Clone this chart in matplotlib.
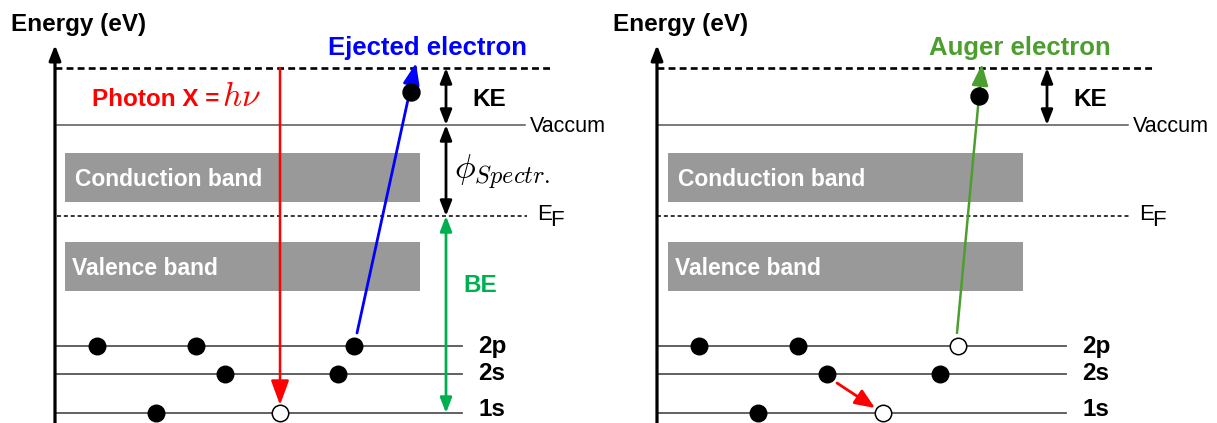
import matplotlib.pyplot as plt
from matplotlib.patches import Rectangle

plt.rcParams['font.family'] = ['Liberation Sans', 'DejaVu Sans']
plt.rcParams['mathtext.fontset'] = 'cm'

# Diagram geometry (pixel units, y grows downwards)
Y_TOP = 68      # dashed line: electron leaves the sample
Y_VAC = 125     # vacuum level
Y_EF = 216      # Fermi level
CB_Y = (153, 202)
VB_Y = (242, 291)

level_names = ['2p', '2s', '1s']
level_y = [346, 374, 413]

# electrons: (level, x)
left_filled = [('2p', 97), ('2p', 196), ('2p', 354), ('2s', 225), ('2s', 338), ('1s', 156)]
left_holes = [('1s', 280)]
right_filled = [('2p', 699), ('2p', 798), ('2s', 827), ('2s', 940), ('1s', 758)]
right_holes = [('2p', 958), ('1s', 883)]
ejected_electron = (411, 92)
auger_electron = (979, 96)

# panel layout
panels = [
    dict(axis_x=55, line_x0=57, top_end=552, vac_end=525, ef_end=527,
         band_x=(65, 420), lvl_end=462, ke_x=446),
    dict(axis_x=657, line_x0=657, top_end=1153, vac_end=1128, ef_end=1129,
         band_x=(668, 1023), lvl_end=1066, ke_x=1047),
]

BAND_GREY = '#999999'
LINE_GREY = '#555555'
BLUE = '#0000ff'
RED = '#ff0000'
BE_GREEN = '#00b050'
AUGER_GREEN = '#4c9f2f'

fig = plt.figure(figsize=(12.17, 4.23), dpi=100)
ax = fig.add_axes([0, 0, 1, 1])
ax.set_xlim(0, 1217)
ax.set_ylim(423, 0)
ax.axis('off')

lvl = dict(zip(level_names, level_y))


def arrow(x0, y0, x1, y1, color, style='-|>', lw=2.0, hl=1.0, hw=0.45):
    ax.annotate('', xy=(x1, y1), xytext=(x0, y0),
                arrowprops=dict(arrowstyle=f'{style},head_length={hl},head_width={hw}',
                                color=color, lw=lw, shrinkA=0, shrinkB=0),
                zorder=4)


for p in panels:
    ax0 = p['axis_x']
    # energy axis
    arrow(ax0, 423, ax0, 45, 'black', lw=2.3, hl=0.9, hw=0.35)
    ax.text(ax0 - 44, 24, 'Energy (eV)', fontsize=17.5, fontweight='bold', va='center')

    # reference levels
    ax.plot([ax0, p['top_end']], [Y_TOP, Y_TOP], color='black', lw=1.9,
            linestyle=(0, (2.6, 1.6)))
    ax.plot([p['line_x0'], p['vac_end']], [Y_VAC, Y_VAC], color=LINE_GREY, lw=1.1)
    ax.text(p['vac_end'] + 5, Y_VAC + 1, 'Vaccum', fontsize=15.5, va='center')
    ax.plot([p['line_x0'], p['ef_end']], [Y_EF, Y_EF], color='black', lw=1.1,
            linestyle=(0, (2.6, 1.9)))
    ax.text(p['ef_end'] + 10, Y_EF - 2, 'E', fontsize=16, va='center')
    ax.text(p['ef_end'] + 23, Y_EF + 5, 'F', fontsize=16, va='center')

    # bands
    bx0, bx1 = p['band_x']
    ax.add_patch(Rectangle((bx0, CB_Y[0]), bx1 - bx0, CB_Y[1] - CB_Y[0],
                           color=BAND_GREY, lw=0, zorder=1))
    ax.add_patch(Rectangle((bx0, VB_Y[0]), bx1 - bx0, VB_Y[1] - VB_Y[0],
                           color=BAND_GREY, lw=0, zorder=1))
    ax.text(bx0 + 10, (CB_Y[0] + CB_Y[1]) / 2 + 2, 'Conduction band', color='white',
            fontsize=16.5, fontweight='bold', va='center', zorder=2)
    ax.text(bx0 + 7, (VB_Y[0] + VB_Y[1]) / 2 + 2, 'Valence band', color='white',
            fontsize=16.5, fontweight='bold', va='center', zorder=2)

    # core levels
    for name, y in zip(level_names, level_y):
        ax.plot([p['line_x0'], p['lvl_end']], [y, y], color=LINE_GREY, lw=1.3, zorder=2)
        ax.text(p['lvl_end'] + 16, min(y, 410), name, fontsize=17.5, fontweight='bold',
                va='center')

    # kinetic energy
    arrow(p['ke_x'], Y_TOP, p['ke_x'], Y_VAC, 'black', style='<|-|>', lw=2.0, hl=0.9, hw=0.35)
    ax.text(p['ke_x'] + 26, 100, 'KE', fontsize=17.5, fontweight='bold', va='center')

# electrons and holes
for items, filled in [(left_filled + right_filled, True), (left_holes + right_holes, False)]:
    xs = [x for _, x in items]
    ys = [lvl[n] for n, _ in items]
    ax.scatter(xs, ys, s=140, facecolor='black' if filled else 'white',
               edgecolor='black', linewidth=1.1, zorder=5)
ax.scatter([ejected_electron[0], auger_electron[0]], [ejected_electron[1], auger_electron[1]],
           s=150, color='black', zorder=5)

# left panel: photoemission (XPS)
arrow(280, Y_TOP, 280, lvl['1s'] - 8, RED, lw=1.8, hl=1.5, hw=0.55)
ax.text(92, 100, 'Photon X =', color=RED, fontsize=17.5, fontweight='bold', va='center')
ax.text(222, 97, r'$h\nu$', color=RED, fontsize=24, va='center')
arrow(357, 333, 416, 63, BLUE, lw=2.0, hl=1.3, hw=0.5)
ax.text(427, 48, 'Ejected electron', color=BLUE, fontsize=18.5, fontweight='bold',
        ha='center', va='center')
arrow(446, Y_VAC, 446, Y_EF, 'black', style='<|-|>', lw=2.0, hl=0.9, hw=0.35)
ax.text(454, 172, r'$\phi_{Spectr.}$', fontsize=25, va='center')
arrow(446, Y_EF, 446, lvl['1s'], BE_GREEN, style='<|-|>', lw=2.0, hl=0.9, hw=0.35)
ax.text(463, 285, 'BE', color=BE_GREEN, fontsize=17.5, fontweight='bold', va='center')

# right panel: Auger process
arrow(837, 383, 875, 408, RED, lw=2.0, hl=1.2, hw=0.5)
arrow(957, 333, 982, 64, AUGER_GREEN, lw=1.8, hl=1.3, hw=0.5)
ax.text(1020, 48, 'Auger electron', color=AUGER_GREEN, fontsize=18.5, fontweight='bold',
        ha='center', va='center')

fig.savefig('out.png', dpi=100)
